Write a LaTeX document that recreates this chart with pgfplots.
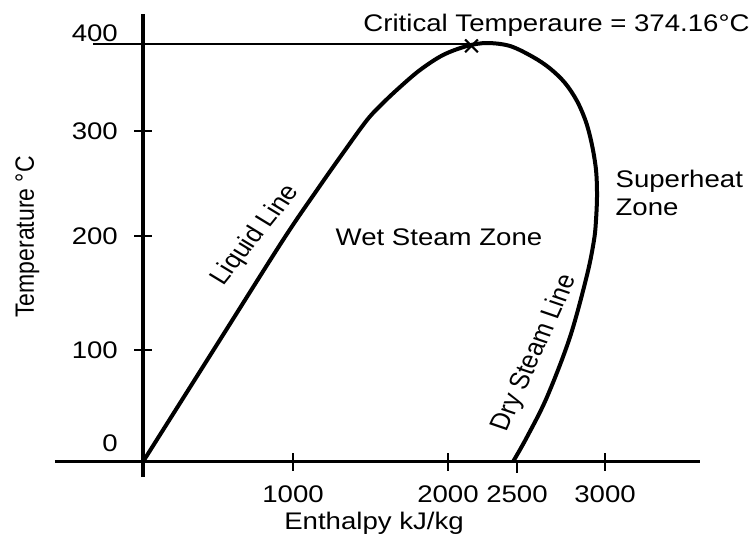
\documentclass[border=0pt]{standalone}
\usepackage{fontspec}
\setmainfont[FakeStretch=1.15]{Liberation Sans}
\newfontfamily\plainfont{Liberation Sans}
\usepackage{pgfplots}
\pgfplotsset{compat=1.18}
\begin{document}
\begin{tikzpicture}[font=\fontsize{24}{28}\selectfont]
\begin{axis}[
  scale only axis, width=645pt, height=463pt,
  xmin=-586.7, xmax=3713.3, ymin=-13.9, ymax=407,
  axis lines=middle,
  axis line style={line width=3.5pt, -},
  clip=false,
  /pgf/number format/assume math mode=true,
  tick label style={font=\fontsize{24}{28}\selectfont},
  tick style={line width=1.5pt, black},
  major tick length=18pt, tick align=center,
  xtick={1000,2033.3,3080}, xticklabels={1000,2000,3000},
  extra x ticks={2493.3}, extra x tick labels={2500},
  extra x tick style={tick align=outside, major tick length=11pt, xticklabel style={yshift=2pt}},
  ytick={101.5,205,300.6}, yticklabels={100,200,300},
  extra y ticks={17,389.7}, extra y tick labels={0,400},
  extra y tick style={tick style={draw=none}},
  xticklabel style={anchor=base, inner sep=0pt, yshift=-32pt},
  yticklabel style={anchor=east, inner sep=0pt, xshift=-16pt},
]
% saturation dome (liquid line + dry steam line)
\addplot[line width=4pt, smooth, tension=0.55] coordinates {
 (0,0) (500,108) (933.3,201.5) (1160,247) (1333.3,280.6)
 (1493.3,310.6) (1600,326.1) (1713.3,340.6) (1846.7,356.1) (2000,369.7)
 (2160,377.9) (2293.3,380.6) (2446.7,377.9) (2600,367.9) (2713.3,357.5)
 (2813.3,344.3) (2893.3,327.9) (2953.3,308.8) (2993.3,287.9) (3020,265.2)
 (3026.7,242.5) (3020,219.7) (3006.7,201.5) (2960,169.7) (2846.7,113.4)
 (2693.3,58.8) (2560,22.5) (2466.7,0)
};
% critical temperature line
\addplot[line width=2pt] coordinates {(-333,380) (2190,380)};
\addplot[only marks, mark=x, mark size=9pt, mark options={line width=2pt}] coordinates {(2190,378)};
\node[anchor=base] at (axis cs:2756.7,391.1) {Critical Temperaure = 374.16°C};
\node[anchor=base] at (axis cs:1973.3,197) {Wet Steam Zone};
\node[anchor=base west] at (axis cs:3127,248.9) {Superheat};
\node[anchor=base west] at (axis cs:3127,223.4) {Zone};
\node[xscale=1.15, rotate=55, font=\plainfont\fontsize{24}{28}\selectfont] at (axis cs:750,206) {Liquid Line};
\node[xscale=1.15, rotate=68.5, font=\plainfont\fontsize{24}{28}\selectfont] at (axis cs:2613,98.8) {Dry Steam Line};
\node[anchor=base] at (axis cs:1540,-62) {Enthalpy kJ/kg};
\node[anchor=base, xscale=1.15, rotate=90, font=\plainfont\fontsize{23}{27}\selectfont] at (axis cs:-726.7,204.3) {Temperature °C};
\end{axis}
\pgfresetboundingbox
\useasboundingbox ([shift={(-55pt,-73pt)}]current axis.south west) rectangle ([shift={(696pt,477pt)}]current axis.south west);
\end{tikzpicture}
\end{document}
